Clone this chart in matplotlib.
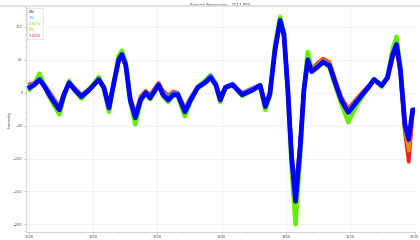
import matplotlib
matplotlib.use("Agg")
import matplotlib.pyplot as plt
from matplotlib.ticker import MultipleLocator

# wavenumber positions
x = [1002, 1009, 1017, 1025, 1032, 1040, 1048, 1055, 1063, 1072,
     1082, 1094, 1109, 1117, 1125, 1132, 1140, 1145, 1151, 1158,
     1166, 1174, 1182, 1189, 1202, 1209, 1217, 1225, 1232, 1243,
     1252, 1263, 1274, 1283, 1291, 1298, 1306, 1317, 1332, 1348,
     1360, 1368, 1375, 1383, 1391, 1397, 1403, 1409, 1415, 1422,
     1428, 1434, 1440, 1448, 1458, 1468, 1475, 1486, 1497, 1509,
     1522, 1528, 1537, 1549, 1558, 1566, 1572, 1578, 1585, 1591,
     1597, 1602]

s_green = [5, 14, 29, 10, -6, -20, -33, -5, 18, 3,
           -9, 4, 24, 6, -29, 14, 56, 64, 46, -14,
           -48, -14, -1, -10, 14, -5, -14, -4, -5, -36,
           -13, 9, 18, 27, 13, -14, 8, 13, -5, 4,
           12, -26, -4, 72, 115, 92, 2, -115, -200, -100,
           2, 62, 36, 40, 46, 38, 16, -16, -45, -21,
           -1, 6, 21, 9, 25, 66, 85, 38, -55, -80,
           -30, -30]
s_red = [13, 15, 19, 12, 2, -10, -20, 0, 16, 7,
         -3, 6, 19, 9, -18, 12, 47, 55, 40, -6,
         -32, -6, 3, -3, 15, 3, -4, 2, 0, -24,
         -7, 9, 15, 23, 14, -6, 9, 12, 0, 7,
         12, -16, 0, 62, 106, 84, 8, -92, -145, -78,
         8, 47, 36, 44, 52, 46, 25, -6, -24, -10,
         4, 10, 19, 12, 21, 52, 66, 28, -60, -105,
         -32, -29]
s_orange = [11, 14, 20, 11, 0, -12, -22, -1, 16, 6,
            -4, 5, 20, 8, -20, 12, 49, 57, 41, -8,
            -34, -8, 2, -5, 14, 1, -6, 1, -1, -26,
            -8, 9, 16, 24, 14, -8, 9, 13, -1, 6,
            12, -18, -1, 64, 108, 86, 6, -96, -152, -82,
            6, 48, 35, 42, 50, 44, 23, -8, -26, -12,
            3, 9, 20, 11, 22, 55, 70, 31, -54, -88,
            -28, -27]
s_lblue = [10, 14, 21, 11, 0, -12, -22, -1, 16, 6,
           -4, 5, 21, 8, -20, 13, 51, 59, 43, -9,
           -35, -9, 1, -6, 13, 0, -8, 0, -1, -26,
           -8, 9, 17, 26, 14, -8, 9, 14, -1, 6,
           12, -18, -1, 66, 110, 88, 6, -98, -160, -84,
           6, 50, 34, 40, 48, 42, 22, -9, -28, -13,
           2, 8, 21, 11, 24, 59, 75, 34, -50, -73,
           -27, -27]
s_blue = [8, 12, 20, 9, -3, -15, -26, -3, 15, 4,
          -6, 4, 20, 8, -23, 12, 50, 58, 42, -11,
          -38, -11, 0, -8, 12, -3, -11, -3, -3, -29,
          -11, 8, 15, 23, 12, -11, 8, 12, -3, 4,
          11, -21, -3, 65, 110, 88, 4, -101, -165, -86,
          4, 50, 32, 38, 47, 41, 20, -11, -30, -15,
          1, 8, 20, 11, 23, 58, 73, 35, -48, -71,
          -26, -26]

labels = ["0%", "1%", "2.50%", "5%", "7.50%"]
colors = ["#0000ff", "#3b8cff", "#66ee00", "#ff8c00", "#ff1a1a"]

fig = plt.figure(figsize=(4.2, 2.4), dpi=100)
ax = fig.add_axes([0.062, 0.035, 0.925, 0.935])

# draw back to front: green widest, blue on top
ax.plot(x, s_green, color=colors[2], lw=3.2, solid_joinstyle="round")
ax.plot(x, s_red, color=colors[4], lw=2.6, solid_joinstyle="round")
ax.plot(x, s_orange, color=colors[3], lw=2.6, solid_joinstyle="round")
ax.plot(x, s_lblue, color=colors[1], lw=2.8, solid_joinstyle="round")
ax.plot(x, s_blue, color=colors[0], lw=3.4, solid_joinstyle="round")

ax.set_xlim(996, 1600)
ax.set_ylim(-211, 130)
ax.xaxis.set_major_locator(MultipleLocator(100))
ax.xaxis.set_minor_locator(MultipleLocator(20))
ax.yaxis.set_major_locator(MultipleLocator(50))
ax.yaxis.set_minor_locator(MultipleLocator(10))
ax.grid(True, which="major", color="#ececec", lw=0.5)
ax.set_axisbelow(True)
ax.tick_params(which="both", labelsize=2.5, colors="#999999", labelcolor="#444444",
               length=1.5, width=0.4, pad=1)
ax.tick_params(which="minor", length=1)
for side in ["top", "right"]:
    ax.spines[side].set_visible(False)
for side in ["left", "bottom"]:
    ax.spines[side].set_color("#cccccc")
    ax.spines[side].set_linewidth(0.6)

ax.set_title("Spectra Regression - 2017-PP4", fontsize=2.8, color="#444444", pad=1)
ax.set_ylabel("Intensity", fontsize=2.8, color="#444444", labelpad=1)

handles = [plt.Line2D([], [], color=c, lw=0) for c in colors]
leg = ax.legend(handles, labels, loc="upper left", fontsize=2.8, handlelength=0,
                handletextpad=0, borderpad=0.4, labelspacing=0.5, frameon=True,
                fancybox=False, borderaxespad=0.3)
leg.get_frame().set_edgecolor("#cccccc")
leg.get_frame().set_linewidth(0.4)
for txt, c in zip(leg.get_texts(), colors):
    txt.set_color(c)

fig.add_artist(plt.Line2D([0, 1], [0.975, 0.975], color="#dddddd", lw=1.2))
fig.savefig("out.png", dpi=100)
